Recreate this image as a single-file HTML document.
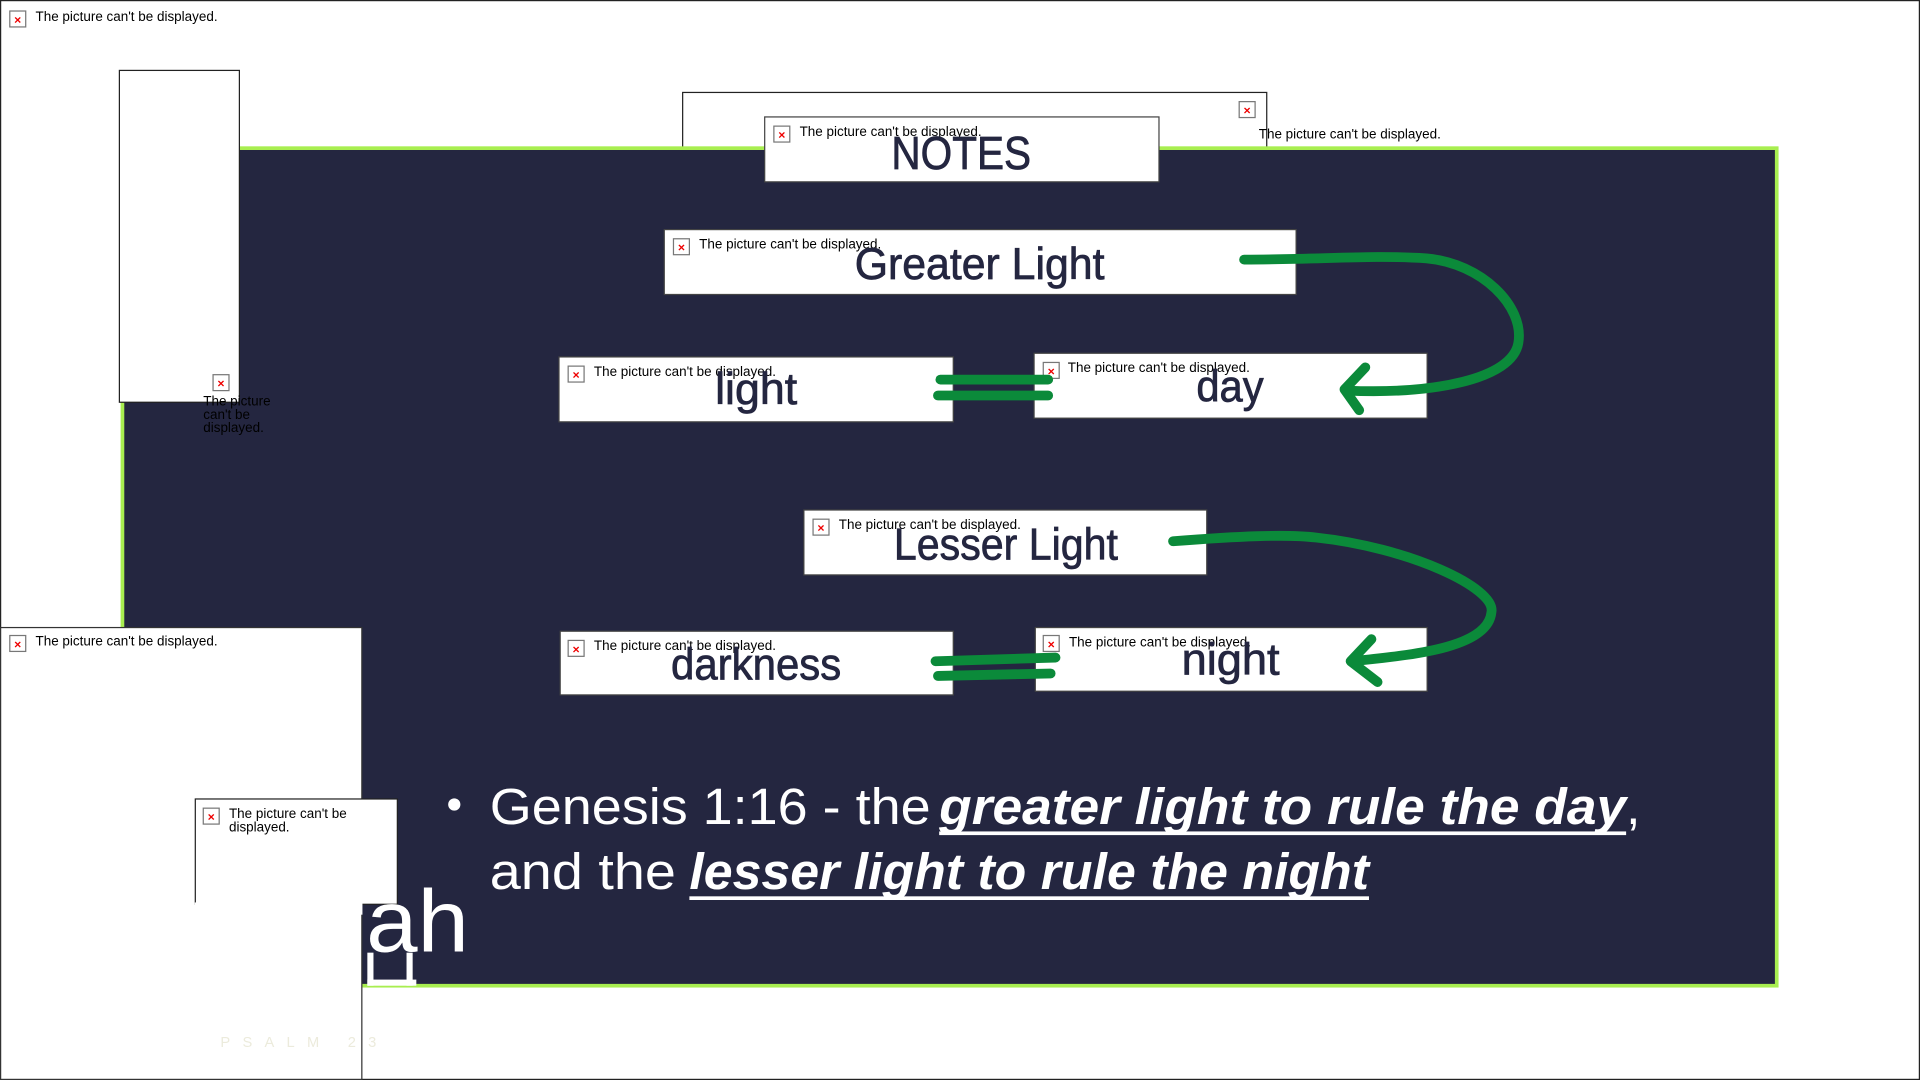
<!DOCTYPE html>
<html><head><meta charset="utf-8"><style>html,body{margin:0;padding:0;background:#fff}svg{display:block}</style></head>
<body>
<svg width="1920" height="1080" viewBox="0 0 1568 882" xmlns="http://www.w3.org/2000/svg" font-family="Liberation Sans, Arial, sans-serif">
<defs>
<g id="ic"><rect x="0" y="0" width="13" height="13" fill="#fff" stroke="#777" stroke-width="1"/><text x="6.5" y="10.5" font-size="10" fill="#e00" text-anchor="middle" font-weight="bold">×</text></g>
</defs>
<rect x="0.5" y="0.5" width="1567" height="881" fill="#fff" stroke="#222" stroke-width="1"/>
<!-- top box behind NOTES -->
<rect x="557.5" y="75.5" width="477" height="60" fill="#fff" stroke="#222"/>
<!-- main panel -->
<rect x="100" y="121" width="1351" height="684" fill="#242640" stroke="#a8ee50" stroke-width="3"/>
<use href="#ic" x="1012" y="83"/>
<text x="1028" y="113" font-size="11">The picture can't be displayed.</text>
<!-- top-left -->
<use href="#ic" x="8" y="9"/>
<text x="29" y="17" font-size="11">The picture can't be displayed.</text>
<!-- tall box -->
<rect x="97.5" y="57.5" width="98" height="271" fill="#fff" stroke="#222"/>
<use href="#ic" x="174" y="306"/>
<text font-size="11" fill="#000"><tspan x="166" y="331">The picture</tspan><tspan x="166" y="342">can't be</tspan><tspan x="166" y="353">displayed.</tspan></text>
<!-- boxes -->
<g fill="#fff" stroke="#444" stroke-width="1">
<rect x="624.5" y="95.5" width="322" height="53"/>
<rect x="542.5" y="187.5" width="516" height="53"/>
<rect x="456.5" y="291.5" width="322" height="53"/>
<rect x="844.5" y="288.5" width="321" height="53"/>
<rect x="656.5" y="416.5" width="329" height="53"/>
<rect x="457.5" y="515.5" width="321" height="52"/>
<rect x="845.5" y="512.5" width="320" height="52"/>
</g>
<g font-size="11" fill="#000">
<use href="#ic" x="632" y="103"/><text x="653" y="111">The picture can't be displayed.</text>
<use href="#ic" x="550" y="195"/><text x="571" y="203">The picture can't be displayed.</text>
<use href="#ic" x="464" y="299"/><text x="485" y="307">The picture can't be displayed.</text>
<use href="#ic" x="852" y="296"/><text x="872" y="304">The picture can't be displayed.</text>
<use href="#ic" x="664" y="424"/><text x="685" y="432">The picture can't be displayed.</text>
<use href="#ic" x="464" y="523"/><text x="485" y="531">The picture can't be displayed.</text>
<use href="#ic" x="852" y="519"/><text x="873" y="528">The picture can't be displayed.</text>
</g>
<g fill="#242640" font-size="36" stroke="#242640" stroke-width="0.6">
<text x="728" y="138" textLength="114" lengthAdjust="spacingAndGlyphs" font-size="38">NOTES</text>
<text x="698" y="228" textLength="204" lengthAdjust="spacingAndGlyphs">Greater Light</text>
<text x="584" y="330" textLength="67" lengthAdjust="spacingAndGlyphs">light</text>
<text x="977" y="328" textLength="55" lengthAdjust="spacingAndGlyphs">day</text>
<text x="730" y="457" textLength="183" lengthAdjust="spacingAndGlyphs">Lesser Light</text>
<text x="548" y="555" textLength="139" lengthAdjust="spacingAndGlyphs">darkness</text>
<text x="965" y="551" textLength="80" lengthAdjust="spacingAndGlyphs">night</text>
</g>
<!-- green strokes -->
<g fill="none" stroke="#0b8a3a" stroke-width="8" stroke-linecap="round" stroke-linejoin="round">
<path d="M1016,212 C1080,212 1120,208 1165,211 C1210,215 1245,250 1240,280 C1235,310 1170,322 1100,319"/>
<path d="M1115,300 L1098,318 L1110,335"/>
<path d="M768,310 L856,310"/>
<path d="M766,323 L856,323"/>
<path d="M958,442 C1010,438 1050,436 1075,439 C1150,447 1222,480 1218,500 C1215,530 1150,535 1105,540"/>
<path d="M1120,522 L1103,540 L1125,557"/>
<path d="M764,540 L862,537"/>
<path d="M766,552 L858,550"/>
</g>
<!-- bottom-left boxes -->
<rect x="0.5" y="512.5" width="295" height="369" fill="#fff" stroke="#333"/>
<use href="#ic" x="8" y="519"/>
<text x="29" y="527" font-size="11">The picture can't be displayed.</text>
<rect x="159.5" y="652.5" width="165" height="86" fill="#fff" stroke="#222"/>
<rect x="159" y="737" width="137" height="10" fill="#fff"/>
<use href="#ic" x="166" y="660"/>
<text font-size="11"><tspan x="187" y="668">The picture can't be</tspan><tspan x="187" y="679">displayed.</tspan></text>
<text x="180" y="855" font-size="12" fill="#ecebdc" letter-spacing="10">PSALM  23</text>
<!-- bullet text -->
<g fill="#fff" font-size="42">
<circle cx="371" cy="657" r="5"/>
<text x="400" y="673" textLength="360" lengthAdjust="spacingAndGlyphs">Genesis 1:16 - the</text>
<text x="767" y="673" textLength="561" lengthAdjust="spacingAndGlyphs" font-weight="bold" font-style="italic">greater light to rule the day</text>
<text x="1328" y="673">,</text>
<rect x="767" y="679" width="561" height="3"/>
<text x="400" y="726" textLength="152" lengthAdjust="spacingAndGlyphs">and the</text>
<text x="563" y="726" textLength="555" lengthAdjust="spacingAndGlyphs" font-weight="bold" font-style="italic">lesser light to rule the night</text>
<rect x="563" y="732" width="555" height="3"/>
<text x="299" y="777" font-size="72" textLength="84" lengthAdjust="spacingAndGlyphs">ah</text>
<rect x="300" y="778" width="5" height="27"/><rect x="332" y="778" width="5" height="27"/><rect x="300" y="800" width="40" height="5"/>
</g>
</svg>
</body></html>
